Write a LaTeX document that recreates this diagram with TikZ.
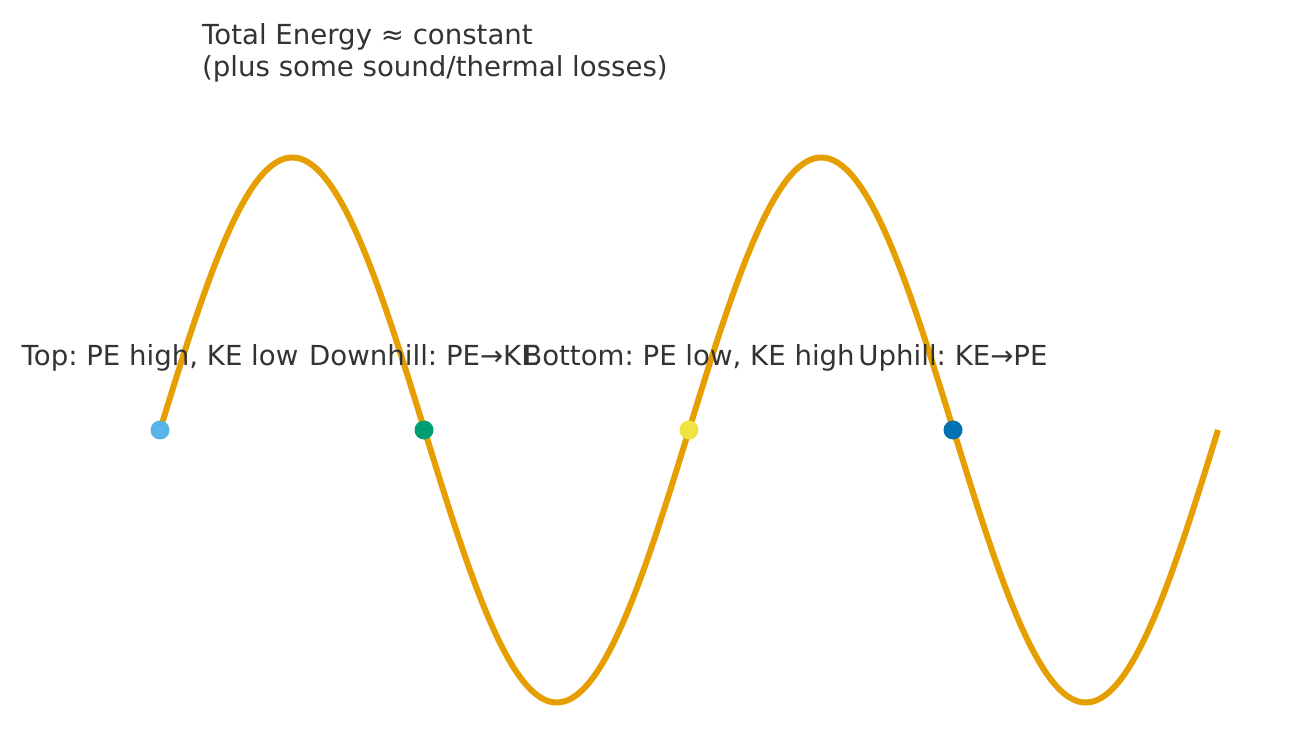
\documentclass[tikz,border=0pt]{standalone}
\usepackage{fontspec}
\setmainfont{DejaVu Sans}
\frenchspacing
\definecolor{txt}{HTML}{333333}
\definecolor{track}{HTML}{E69F00}
\definecolor{cA}{HTML}{56B4E9}
\definecolor{cB}{HTML}{009E73}
\definecolor{cC}{HTML}{F0E442}
\definecolor{cD}{HTML}{0072B2}
\tikzset{
  lbl/.style={text=txt, font=\fontsize{27.6}{32}\selectfont, inner sep=0pt, anchor=base},
  ttl/.style={text=txt, font=\fontsize{27.6}{32}\selectfont, inner sep=0pt, anchor=base west},
  dot/.style={circle, inner sep=0pt, minimum size=19pt},
  wave/.style={draw=track, line width=6pt}
}
\begin{document}
\begin{tikzpicture}[x=1pt,y=-1pt]
\useasboundingbox (0,0) rectangle (1291,751);
\draw[wave] plot[domain=0:720, samples=241, smooth, variable=\t] ({160+\t/360*529},{430-272.5*sin(\t)});
\node[lbl] (l1) at (160,366) {Top: PE high, KE low};
\node[lbl] (l2) at (424,366) {Downhill: PE→KE};
\node[lbl] (l3) at (689,366) {Bottom: PE low, KE high};
\node[lbl] (l4) at (953,366) {Uphill: KE→PE};
\node[dot, fill=cA] (d1) at (160,430) {};
\node[dot, fill=cB] (d2) at (424,430) {};
\node[dot, fill=cC] (d3) at (689,430) {};
\node[dot, fill=cD] (d4) at (953,430) {};
\node[ttl] (t1) at (202,45) {Total Energy ≈ constant};
\node[ttl] (t2) at (202,77) {(plus some sound/thermal losses)};
\end{tikzpicture}
\end{document}
